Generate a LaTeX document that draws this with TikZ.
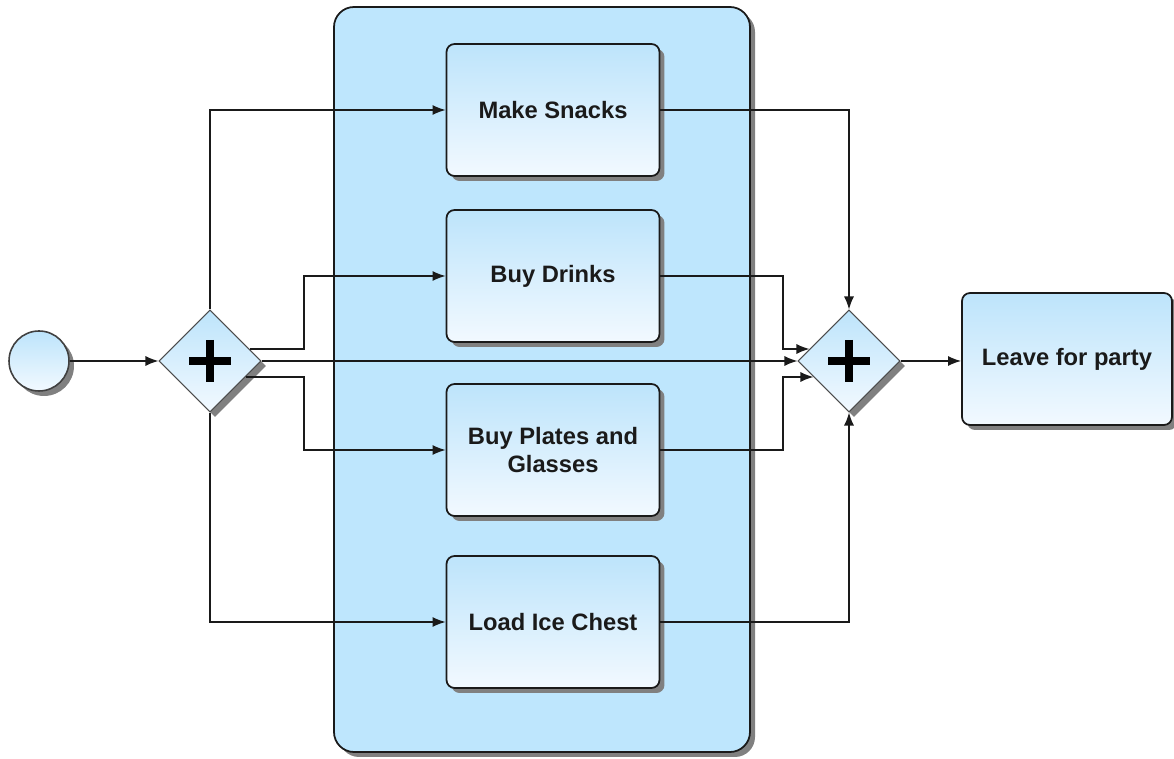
\documentclass[tikz,border=0pt]{standalone}
\usepackage{fontspec}
\setmainfont{Liberation Sans}
\usetikzlibrary{arrows.meta,shapes.geometric,shadows,calc}

\definecolor{tasktop}{HTML}{BDE4FB}
\definecolor{taskbot}{HTML}{F2F9FF}
\definecolor{poolfill}{HTML}{BEE6FD}
\definecolor{shadegray}{HTML}{808080}
\definecolor{edge}{HTML}{1A1A1A}

\tikzset{
  boxshadow/.style={drop shadow={shadow xshift=0.1cm,shadow yshift=-0.1cm,fill=shadegray,opacity=1}},
  task/.style={rectangle,rounded corners=0.16cm,draw=edge,line width=1pt,
    top color=tasktop,bottom color=taskbot,minimum width=4.26cm,minimum height=2.64cm,
    align=center,font=\fontsize{13.5}{15.5}\selectfont\bfseries,text=edge,boxshadow},
  gateway/.style={diamond,aspect=1,inner sep=0pt,minimum size=2.04cm,draw=black!70,
    line width=0.6pt,top color=tasktop,bottom color=taskbot,boxshadow},
  startevent/.style={circle,minimum size=1.2cm,draw=black!75,line width=0.9pt,
    top color=tasktop,bottom color=taskbot,boxshadow},
  flow/.style={draw=edge,line width=0.8pt,-{Latex[length=0.26cm,width=0.2cm]}},
}

\begin{document}
\begin{tikzpicture}[x=0.02cm,y=-0.02cm]
  \useasboundingbox (0,0) rectangle (1174,759);
  % sub-process container
  \path[draw=edge,fill=poolfill,rounded corners=0.4cm,line width=1pt,boxshadow]
    (334,7) rectangle (750,752);

  \node[startevent] (start) at (39,361) {};
  \node[gateway] (split) at (210,361) {};
  \node[gateway] (join) at (849,361) {};
  \node[task] (snacks) at (553,110) {Make Snacks};
  \node[task] (drinks) at (553,276) {Buy Drinks};
  \node[task] (plates) at (553,450) {Buy Plates and\\Glasses};
  \node[task] (chest) at (553,622) {Load Ice Chest};
  \node[task,minimum width=4.2cm] (leave) at (1067,359) {Leave for party};

  \foreach \g in {split,join} {
    \draw[line width=0.16cm] ($(\g)+(-21,0)$) -- ($(\g)+(21,0)$);
    \draw[line width=0.16cm] ($(\g)+(0,-21)$) -- ($(\g)+(0,21)$);
  }

  \coordinate (fork) at (304,0);
  \coordinate (merge) at (783,0);

  % fan out
  \draw[flow] (start.east) -- (split.west);
  \draw[flow] (split.north) |- (snacks.west);
  \draw[flow] ($(split.east)+(-12,-12)$) -| (fork |- drinks.west) -- (drinks.west);
  \draw[flow] ($(split.east)+(-16,16)$) -| (fork |- plates.west) -- (plates.west);
  \draw[flow] (split.south) |- (chest.west);
  \draw[flow] (split.east) -- (join.west);

  % fan in
  \draw[flow] (snacks.east) -| (join.north);
  \draw[flow] (drinks.east) -| (merge |- 0,349) -- ($(join.west)+(12,-12)$);
  \draw[flow] (plates.east) -| (merge |- 0,377) -- ($(join.west)+(16,16)$);
  \draw[flow] (chest.east) -| (join.south);
  \draw[flow] (join.east) -- (join.east -| leave.west);
\end{tikzpicture}
\end{document}
